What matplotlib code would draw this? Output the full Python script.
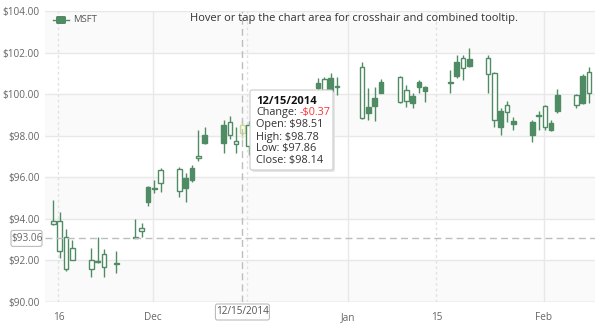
import matplotlib
matplotlib.use("Agg")
import matplotlib.pyplot as plt
import matplotlib.dates as mdates
from matplotlib.patches import FancyBboxPatch, Rectangle
from datetime import datetime

plt.rcParams['font.family'] = ['Open Sans', 'DejaVu Sans']

# candles as they sit on the chart's calendar
dates = ["2014-11-15", "2014-11-16", "2014-11-17", "2014-11-18", "2014-11-21", "2014-11-22",
         "2014-11-23", "2014-11-25", "2014-11-28", "2014-11-29", "2014-11-30", "2014-12-01",
         "2014-12-02", "2014-12-05", "2014-12-06", "2014-12-07", "2014-12-08", "2014-12-09",
         "2014-12-12", "2014-12-13", "2014-12-14", "2014-12-15", "2014-12-16", "2014-12-19",
         "2014-12-20", "2014-12-21", "2014-12-23", "2014-12-26", "2014-12-27", "2014-12-28",
         "2014-12-29", "2014-12-30", "2015-01-03", "2015-01-04", "2015-01-05", "2015-01-06",
         "2015-01-09", "2015-01-10", "2015-01-11", "2015-01-12", "2015-01-13", "2015-01-17",
         "2015-01-18", "2015-01-19", "2015-01-20", "2015-01-23", "2015-01-24", "2015-01-25",
         "2015-01-26", "2015-01-27", "2015-01-30", "2015-01-31", "2015-02-01", "2015-02-02",
         "2015-02-03", "2015-02-06", "2015-02-07", "2015-02-08"]
opens = [93.75, 92.45, 91.59, 92.02, 91.57, 91.98, 91.67, 91.88, 93.07, 93.43, 95.52, 95.45,
         95.71, 95.36, 95.95, 96.43, 96.91, 98.03, 98.52, 98.03, 97.60, 98.51, 97.50, 98.60,
         99.00, 98.90, 99.40, 99.30, 100.54, 100.20, 100.76, 100.33, 98.84, 99.38, 99.81, 100.60,
         99.64, 99.68, 99.91, 100.60, 100.33, 100.52, 101.53, 101.24, 101.69, 100.95, 98.76, 99.20,
         99.16, 98.69, 98.67, 99.00, 98.40, 98.60, 99.96, 99.48, 100.89, 100.04]
highs = [94.91, 94.34, 93.53, 92.98, 92.58, 93.14, 92.54, 92.46, 93.98, 93.79, 95.58, 95.87,
         96.43, 96.51, 96.19, 96.59, 98.28, 98.42, 98.76, 98.95, 98.43, 98.78, 98.72, 99.20,
         99.50, 99.60, 99.80, 99.90, 100.78, 100.84, 101.00, 100.84, 101.56, 100.30, 100.36, 100.73,
         100.89, 100.44, 100.04, 100.68, 100.39, 101.16, 101.88, 101.88, 102.21, 101.88, 101.05, 99.32,
         99.68, 98.91, 98.76, 99.20, 99.48, 98.76, 100.23, 99.99, 100.95, 101.29]
lows = [93.71, 92.12, 91.51, 92.00, 91.22, 91.88, 91.19, 91.38, 93.06, 93.14, 94.63, 95.24,
        95.31, 95.07, 94.83, 95.79, 96.78, 97.60, 97.18, 97.83, 97.15, 97.86, 97.07, 98.30,
        98.70, 98.60, 99.00, 99.10, 100.17, 100.12, 99.64, 99.96, 98.79, 98.76, 98.72, 100.06,
        99.59, 99.37, 99.32, 100.04, 99.64, 100.04, 100.76, 100.68, 101.29, 100.04, 98.40, 98.03,
        98.67, 98.27, 97.71, 98.27, 98.27, 98.24, 99.08, 99.35, 99.53, 99.59]
closes = [93.90, 93.91, 93.13, 92.59, 92.02, 91.93, 92.31, 91.84, 93.14, 93.55, 94.81, 95.50,
          96.35, 96.39, 95.47, 95.87, 97.02, 97.66, 97.66, 98.67, 97.76, 98.14, 98.52, 99.00,
          98.90, 99.40, 99.30, 99.70, 100.30, 100.73, 99.80, 100.39, 101.32, 99.11, 99.43, 100.07,
          100.84, 100.20, 99.59, 100.36, 100.17, 100.60, 100.89, 101.75, 101.37, 101.72, 101.00, 98.40,
          99.48, 98.56, 98.03, 98.95, 99.44, 98.27, 99.20, 99.96, 99.56, 101.08]

series_name = "MSFT"
hint = "Hover or tap the chart area for crosshair and combined tooltip."
y_ticks = [90, 92, 94, 96, 98, 100, 102, 104]
x_major = ["2014-12-01", "2015-01-01", "2015-02-01"]
x_minor = ["2014-11-16", "2014-12-16", "2015-01-15"]
x_tick_dates = ["2014-11-16", "2014-12-01", "2015-01-01", "2015-01-15", "2015-02-01"]
x_tick_labels = ["16", "Dec", "Jan", "15", "Feb"]
sel_date = "2014-12-15"
sel_price = 93.06
tip_lines = [("Open:", "$98.51"), ("High:", "$98.78"), ("Low:", "$97.86"), ("Close:", "$98.14")]
tip_change = "-$0.37"

green = "#4f8b63"
grid = "#e8e8e8"
W, H = 604, 334

fig = plt.figure(figsize=(W / 100, H / 100), dpi=100)
ax = fig.add_axes([45 / W, 1 - 302 / H, 550 / W, 291 / H])

def dn(s):
    return mdates.date2num(datetime.strptime(s, "%Y-%m-%d"))

xs = [dn(s) + 0.2 for s in dates]
x0 = dn("2014-12-01") - 17.14
ax.set_xlim(x0, x0 + 550 / 6.3)
ax.set_ylim(90, 104)

# faint bands
for i, lo in enumerate(y_ticks[:-1]):
    if i % 2 == 0:
        ax.axhspan(lo, lo + 2, color="#fafafa", zorder=0, lw=0)
for t in y_ticks:
    ax.axhline(t, color=grid, lw=1, zorder=1)
for s in x_major:
    ax.axvline(dn(s), color=grid, lw=1, zorder=1)
for s in x_minor:
    ax.axvline(dn(s), color="#e2e2e2", lw=1, ls=(0, (2, 2)), zorder=1)

bw = 0.72
for x, o, h, l, c, s in zip(xs, opens, highs, lows, closes, dates):
    if s == sel_date:
        ec, fc = "#c8d898", "#fbfbe6"
    else:
        ec = green
        fc = "white" if c >= o else green
    ax.vlines(x, l, h, color=ec, lw=1, zorder=2)
    bot, top = min(o, c), max(o, c)
    ax.add_patch(Rectangle((x - bw / 2, bot), bw, max(top - bot, 0.05), facecolor=fc,
                           edgecolor=ec, lw=1, zorder=3))

for sp in ax.spines.values():
    sp.set_visible(False)
ax.axhline(90, color="#d8d8d8", lw=1, zorder=1)
ax.set_yticks(y_ticks)
ax.set_yticklabels([f"${t:.2f}" for t in y_ticks])
ax.set_xticks([dn(s) for s in x_tick_dates])
ax.set_xticklabels(x_tick_labels)
ax.tick_params(axis="both", length=0, colors="#666666", labelsize=7.2)
ax.tick_params(axis="x", pad=7)
ax.tick_params(axis="y", pad=4)

# crosshair
sx = dn(sel_date) + 0.2
ax.axvline(sx, color="#bdbdbd", lw=1, ls=(0, (5, 3)), zorder=4)
ax.axhline(sel_price, color="#bdbdbd", lw=1, ls=(0, (5, 3)), zorder=4)

def px(x, y):
    return ax.transData.transform((x, y))

# y crosshair label
_, py = px(sx, sel_price)
fig.patches.append(FancyBboxPatch((11, py - 8), 31, 16, boxstyle="round,pad=0,rounding_size=2",
                                  transform=None, facecolor="white", edgecolor="#bbbbbb", lw=0.8))
fig.text(27 / W, py / H, f"${sel_price:.2f}", ha="center", va="center", fontsize=7.2, color="#666666")
# x crosshair label
pxx, _ = px(sx, 90)
fig.patches.append(FancyBboxPatch((pxx - 27, 14), 54, 16, boxstyle="round,pad=0,rounding_size=2",
                                  transform=None, facecolor="white", edgecolor="#bbbbbb", lw=0.8))
fig.text(pxx / W, 22 / H, "12/15/2014", ha="center", va="center", fontsize=7.2, color="#555555")

# tooltip
tx, ty = 250, H - 170
fig.patches.append(FancyBboxPatch((tx + 2, ty - 2), 83, 80, boxstyle="round,pad=0,rounding_size=2",
                                  transform=None, facecolor="#e6e6e6", edgecolor="none", zorder=5))
fig.patches.append(FancyBboxPatch((tx, ty), 83, 80, boxstyle="round,pad=0,rounding_size=2",
                                  transform=None, facecolor="white", edgecolor="#cccccc", lw=0.8, zorder=6))
fig.text(256 / W, 1 - 101 / H, "12/15/2014", fontsize=8, fontweight="bold", color="#111111",
         va="center", zorder=7)
lab = fig.text(256 / W, 1 - 113 / H, "Change:", fontsize=7.8, color="#333333", va="center", zorder=7)
ext = lab.get_window_extent(renderer=fig.canvas.get_renderer())
fig.text((ext.x1 + 3) / W, 1 - 113 / H, tip_change, fontsize=7.8, color="#ff3333", va="center", zorder=7)
for i, (k, v) in enumerate(tip_lines):
    fig.text(256 / W, 1 - (125 + 12 * i) / H, f"{k} {v}", fontsize=7.8, color="#333333",
             va="center", zorder=7)

# legend and hint
fig.add_artist(plt.Line2D([53 / W, 69 / W], [1 - 20 / H] * 2, color=green, lw=1))
fig.patches.append(FancyBboxPatch((56, H - 24), 10, 8, boxstyle="round,pad=0,rounding_size=1.5",
                                  transform=None, facecolor=green, edgecolor="none"))
fig.text(73 / W, 1 - 20 / H, series_name, fontsize=6.8, color="#555555", va="center")
fig.text(354 / W, 1 - 19 / H, hint, fontsize=8, color="#333333", va="center", ha="center")

fig.savefig("out.png", dpi=100)
